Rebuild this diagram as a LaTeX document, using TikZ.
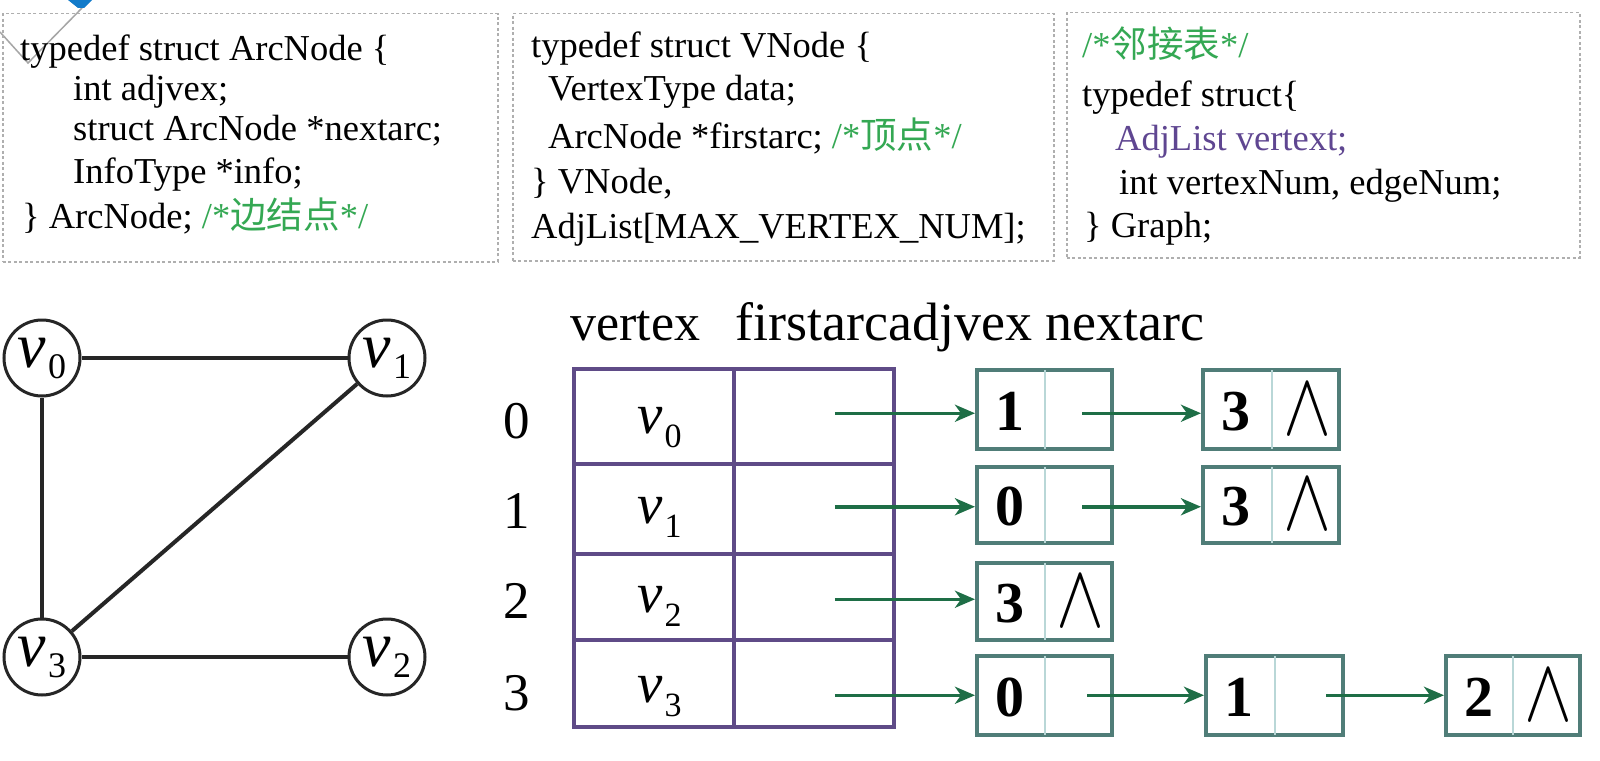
\documentclass[tikz,border=0pt]{standalone}
\usepackage{graphicx}
\usepackage{fontspec}
\setmainfont{Liberation Serif}
\newfontfamily\cjk{Noto Sans CJK SC}
\usetikzlibrary{arrows.meta,calc}
\definecolor{cgreen}{RGB}{52,168,83}
\definecolor{cpurple}{RGB}{95,70,145}
\definecolor{tpurple}{RGB}{95,75,135}
\definecolor{agreen}{RGB}{30,110,70}
\definecolor{lborder}{RGB}{80,125,120}
\definecolor{ldiv}{RGB}{185,215,215}
\definecolor{boxgray}{RGB}{175,175,175}
\newcommand\tabv[1]{{\fontsize{57}{57}\selectfont\itshape v}\kern2pt\raisebox{-14pt}{\fontsize{34}{34}\selectfont #1}}
\newcommand\grv[1]{{\fontsize{64}{64}\selectfont\itshape v}\kern2pt\raisebox{-11pt}{\fontsize{36}{36}\selectfont #1}}
\newcommand\nullp{\scalebox{7.2}[9]{$\wedge$}}
\begin{document}
\begin{tikzpicture}[x=1pt,y=-1pt,
  codebox/.style={draw=boxgray, line width=1.5pt, dash pattern=on 3pt off 2.5pt, anchor=north west, inner sep=0pt},
  code/.style={anchor=base west, inner sep=0pt, font=\fontsize{36.5}{36.5}\selectfont},
  gnode/.style={circle, draw=black!85, line width=3pt, minimum size=76pt, inner sep=0pt, fill=white},
  gedge/.style={draw=black!85, line width=4pt},
  tcell/.style={draw=tpurple, line width=3.5pt, anchor=north west, inner sep=0pt, minimum width=160pt},
  idx/.style={anchor=base, inner sep=0pt, font=\fontsize{53}{53}\selectfont},
  hdr/.style={anchor=base west, inner sep=0pt, font=\fontsize{52}{52}\selectfont},
  lbox/.style={draw=lborder, line width=3.5pt, anchor=north west, inner sep=0pt, minimum width=135pt, minimum height=79pt},
  ldivide/.style={draw=ldiv, line width=2.5pt},
  ldata/.style={inner sep=0pt, font=\bfseries\fontsize{58}{58}\selectfont},
  arr/.style={draw=agreen, line width=3.5pt, -{Stealth[length=20pt,width=17pt,inset=6pt]}}
]
\useasboundingbox (0,0) rectangle (1600,760);
\fill[white] (0,0) rectangle (1600,760);

% top-left artifact
\draw[black!35, line width=1.5pt] (0,32) -- (28,63) -- (82,8);
\fill[cyan!60!blue] (68,0) -- (92,0) -- (84,8) -- (78,8) -- cycle;

% code boxes
\node[codebox, minimum width=495pt, minimum height=248pt] (box1) at (2,13) {};
\node[codebox, minimum width=541pt, minimum height=247pt] (box2) at (512,13) {};
\node[codebox, minimum width=513pt, minimum height=245pt] (box3) at (1066,12) {};

\node[code] (b1l1) at (20,60) {typedef struct ArcNode \{};
\node[code] (b1l2) at (73,100) {int adjvex;};
\node[code] (b1l3) at (73,140) {struct ArcNode *nextarc;};
\node[code] (b1l4) at (73,183) {InfoType *info;};
\node[code] (b1l5) at (22,228) {\} ArcNode; {\color{cgreen}/*{\cjk 边结点}*/}};

\node[code] (b2l1) at (531,58) {typedef struct VNode \{};
\node[code] (b2l2) at (548,100) {VertexType data;};
\node[code] (b2l3) at (548,148) {ArcNode *firstarc; {\color{cgreen}/*{\cjk 顶点}*/}};
\node[code] (b2l4) at (531,193) {\} VNode,};
\node[code] (b2l5) at (531,238) {AdjList[MAX\_VERTEX\_NUM];};

\node[code] (b3l1) at (1082,58) {{\color{cgreen}/*{\cjk 邻接表}*/}};
\node[code] (b3l2) at (1082,106) {typedef struct\{};
\node[code] (b3l3) at (1115,150) {{\color{cpurple}AdjList vertext;}};
\node[code] (b3l4) at (1119,194) {int vertexNum, edgeNum;};
\node[code] (b3l5) at (1084,237) {\} Graph;};

% graph
\node[gnode] (v0) at (42,358) {\grv{0}};
\node[gnode] (v1) at (387,358) {\grv{1}};
\node[gnode] (v3) at (42,657) {\grv{3}};
\node[gnode] (v2) at (387,657) {\grv{2}};
\draw[gedge] (v0) -- (v1);
\draw[gedge] (v0) -- (v3);
\draw[gedge] (v1) -- (v3);
\draw[gedge] (v3) -- (v2);

% header
\node[hdr] (h1) at (570,340) {vertex};
\node[hdr, font=\fontsize{54}{54}\selectfont] (h2) at (735,340) {firstarcadjvex nextarc};

% table
\node[tcell, minimum height=95pt] (c0) at (572,367) {};
\node[tcell, minimum height=95pt] (p0) at (732,367) {};
\node[tcell, minimum height=90pt] (c1) at (572,462) {};
\node[tcell, minimum height=90pt] (p1) at (732,462) {};
\node[tcell, minimum height=86pt] (c2) at (572,552) {};
\node[tcell, minimum height=86pt] (p2) at (732,552) {};
\node[tcell, minimum height=87pt] (c3) at (572,638) {};
\node[tcell, minimum height=87pt] (p3) at (732,638) {};

\node[idx] (i0) at (517,438) {0};
\node[idx] (i1) at (517,528) {1};
\node[idx] (i2) at (517,618) {2};
\node[idx] (i3) at (517,710) {3};

\node[anchor=base west, inner sep=0pt] (t0) at (637,433) {\tabv{0}};
\node[anchor=base west, inner sep=0pt] (t1) at (637,523) {\tabv{1}};
\node[anchor=base west, inner sep=0pt] (t2) at (637,612) {\tabv{2}};
\node[anchor=base west, inner sep=0pt] (t3) at (637,702) {\tabv{3}};

% list nodes
\node[lbox] (a0) at (975,368) {};
\node[lbox, minimum width=136pt] (b0) at (1201,368) {};
\node[lbox, minimum height=76pt] (a1) at (975,465) {};
\node[lbox, minimum width=136pt, minimum height=76pt] (b1) at (1201,465) {};
\node[lbox, minimum height=77pt] (a2) at (975,561) {};
\node[lbox] (a3) at (975,654) {};
\node[lbox, minimum width=137pt] (b3) at (1204,654) {};
\node[lbox, minimum width=134pt] (c3x) at (1444,654) {};

\draw[ldivide] ($(a0.north west)+(70,2)$) -- ($(a0.south west)+(70,-2)$);
\draw[ldivide] ($(b0.north west)+(71,2)$) -- ($(b0.south west)+(71,-2)$);
\draw[ldivide] ($(a1.north west)+(70,2)$) -- ($(a1.south west)+(70,-2)$);
\draw[ldivide] ($(b1.north west)+(71,2)$) -- ($(b1.south west)+(71,-2)$);
\draw[ldivide] ($(a2.north west)+(70,2)$) -- ($(a2.south west)+(70,-2)$);
\draw[ldivide] ($(a3.north west)+(70,2)$) -- ($(a3.south west)+(70,-2)$);
\draw[ldivide] ($(b3.north west)+(71,2)$) -- ($(b3.south west)+(71,-2)$);
\draw[ldivide] ($(c3x.north west)+(69,2)$) -- ($(c3x.south west)+(69,-2)$);

\node[ldata] (a0d) at ($(a0.west)+(35,2)$) {1};
\node[ldata] (b0d) at ($(b0.west)+(35,2)$) {3};
\node[inner sep=0pt] (b0n) at ($(b0.east)+(-33,0)$) {\nullp};
\node[ldata] (a1d) at ($(a1.west)+(35,2)$) {0};
\node[ldata] (b1d) at ($(b1.west)+(35,2)$) {3};
\node[inner sep=0pt] (b1n) at ($(b1.east)+(-33,0)$) {\nullp};
\node[ldata] (a2d) at ($(a2.west)+(35,2)$) {3};
\node[inner sep=0pt] (a2n) at ($(a2.east)+(-33,0)$) {\nullp};
\node[ldata] (a3d) at ($(a3.west)+(35,2)$) {0};
\node[ldata] (b3d) at ($(b3.west)+(35,2)$) {1};
\node[ldata] (c3d) at ($(c3x.west)+(35,2)$) {2};
\node[inner sep=0pt] (c3n) at ($(c3x.east)+(-33,0)$) {\nullp};

% arrows
\draw[arr] ($(p0.center |- a0.west)+(21,4)$) -- ($(a0.west)+(0,4)$);
\draw[arr] ($(p1.center |- a1.west)+(21,2)$) -- ($(a1.west)+(0,2)$);
\draw[arr] ($(p2.center |- a2.west)+(21,-2)$) -- ($(a2.west)+(0,-2)$);
\draw[arr] ($(p3.center |- a3.west)+(21,0)$) -- (a3.west);
\draw[arr] ($(a0.center)+(38,4)$) -- ($(b0.west)+(0,4)$);
\draw[arr] ($(a1.center)+(38,2)$) -- ($(b1.west)+(0,2)$);
\draw[arr] ($(a3.center)+(43,0)$) -- (b3.west);
\draw[arr] ($(b3.center)+(52,0)$) -- (c3x.west);
\end{tikzpicture}
\end{document}
